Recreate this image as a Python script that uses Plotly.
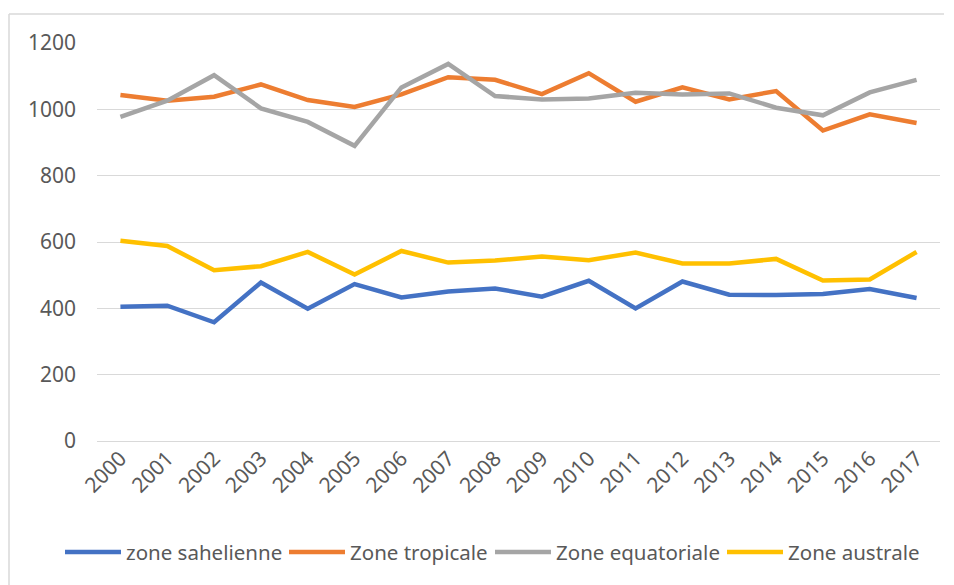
import plotly.graph_objects as go

years = [str(y) for y in range(2000, 2018)]

sahelienne = [405, 408, 358, 478, 399, 473, 433, 451, 460, 435, 483, 400, 481, 441, 440, 443, 458, 431]
tropicale = [1043, 1026, 1038, 1075, 1028, 1007, 1045, 1097, 1089, 1046, 1109, 1023, 1066, 1030, 1055, 936, 985, 959]
equatoriale = [977, 1026, 1103, 1003, 962, 890, 1066, 1137, 1040, 1030, 1033, 1050, 1045, 1048, 1005, 982, 1051, 1089]
australe = [604, 588, 515, 527, 570, 502, 573, 538, 544, 556, 545, 568, 535, 535, 549, 484, 487, 570]

y_ticks = [0, 200, 400, 600, 800, 1000, 1200]

series = [
    ('zone sahelienne', sahelienne, '#4472C4'),
    ('Zone tropicale', tropicale, '#ED7D31'),
    ('Zone equatoriale', equatoriale, '#A5A5A5'),
    ('Zone australe', australe, '#FFC000'),
]

# plot area in screen pixels, used to place the frame and the legend
PLOT_L, PLOT_R, PLOT_T, PLOT_B = 97, 940, 43, 441


def px_x(px):
    return (px - PLOT_L) / (PLOT_R - PLOT_L)


def px_y(py):
    return (PLOT_B - py) / (PLOT_B - PLOT_T)


fig = go.Figure()

for name, values, color in series:
    fig.add_trace(go.Scatter(
        x=years,
        y=values,
        mode='lines',
        name=name,
        line=dict(color=color, width=4.5),
        showlegend=False,
    ))

# chart frame (left and top edges visible in the reference)
frame_color = '#d9d9d9'
fig.add_shape(type='line', xref='paper', yref='paper',
              x0=px_x(9), x1=px_x(9), y0=px_y(585), y1=px_y(14),
              line=dict(color=frame_color, width=1.5))
fig.add_shape(type='line', xref='paper', yref='paper',
              x0=px_x(9), x1=px_x(944), y0=px_y(14), y1=px_y(14),
              line=dict(color=frame_color, width=1.5))

# legend drawn by hand so the line samples match Excel's longer swatches
legend_y = px_y(552)
legend_starts = [65, 289, 495, 727]
for (name, values, color), start in zip(series, legend_starts):
    fig.add_shape(type='line', xref='paper', yref='paper',
                  x0=px_x(start), x1=px_x(start + 56), y0=legend_y, y1=legend_y,
                  line=dict(color=color, width=4.5))
    fig.add_annotation(
        text=name, xref='paper', yref='paper',
        x=px_x(start + 59), y=legend_y,
        xanchor='left', yanchor='middle', showarrow=False,
        font=dict(size=20.5, color='#595959'),
    )

fig.update_layout(
    width=946,
    height=577,
    margin=dict(l=89, r=14, t=35, b=144),
    plot_bgcolor='white',
    paper_bgcolor='white',
    font=dict(family='Noto Sans', color='#595959', size=20),
    showlegend=False,
    xaxis=dict(
        type='category',
        range=[-0.5, 17.5],
        tickangle=-45,
        showgrid=False,
        showline=False,
        ticks='',
        zeroline=False,
        tickfont=dict(size=21),
    ),
    yaxis=dict(
        range=[0, 1200],
        tickvals=y_ticks,
        showgrid=True,
        gridcolor='#d9d9d9',
        gridwidth=1,
        zeroline=True,
        zerolinecolor='#d9d9d9',
        zerolinewidth=1,
        showline=False,
        ticks='',
        ticklabelstandoff=20,
        tickfont=dict(size=21),
    ),
)

fig.write_html("out.html")
